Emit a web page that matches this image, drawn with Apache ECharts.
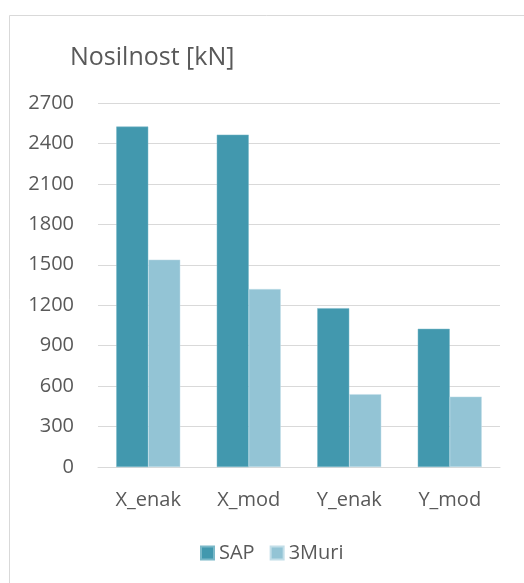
<!DOCTYPE html>
<html>
<head>
<meta charset="utf-8">
<script src="https://cdn.jsdelivr.net/npm/echarts@6/dist/echarts.min.js"></script>
<style>
  html, body { margin: 0; padding: 0; background: #ffffff; }
  #chart { width: 524px; height: 583px; }
</style>
</head>
<body>
<div id="chart"></div>
<script>
// Load capacity per analysis case
const categories = ['X_enak', 'X_mod', 'Y_enak', 'Y_mod'];
const sapValues = [2525, 2465, 1178, 1025];
const muriValues = [1538, 1320, 540, 522];
const seriesNames = ['SAP', '3Muri'];

const FONT = '"Open Sans", sans-serif';
const TEXT = '#595959';

const chart = echarts.init(document.getElementById('chart'), null, { renderer: 'canvas' });

chart.setOption({
  backgroundColor: '#ffffff',
  animation: false,
  title: {
    text: 'Nosilnost [kN]',
    left: 65,
    top: 40,
    textStyle: { fontFamily: FONT, fontSize: 25, fontWeight: 'normal', color: TEXT }
  },
  graphic: [
    { type: 'line', shape: { x1: 9.5, y1: 15.5, x2: 524, y2: 15.5 }, style: { stroke: '#d9d9d9', lineWidth: 1 } },
    { type: 'line', shape: { x1: 9.5, y1: 15.5, x2: 9.5, y2: 583 }, style: { stroke: '#d9d9d9', lineWidth: 1 } }
  ],
  legend: {
    data: seriesNames,
    left: 195,
    top: 538,
    itemWidth: 13,
    itemHeight: 13,
    itemGap: 15,
    icon: 'rect',
    textStyle: { fontFamily: FONT, fontSize: 20, color: TEXT }
  },
  grid: { left: 98, right: 24, top: 103, bottom: 116, containLabel: false },
  xAxis: {
    type: 'category',
    data: categories,
    axisLine: { show: true, lineStyle: { color: '#d9d9d9', width: 1 } },
    axisTick: { show: false },
    axisLabel: { fontFamily: FONT, fontSize: 20, color: TEXT, margin: 23 }
  },
  yAxis: {
    type: 'value',
    min: 0,
    max: 2700,
    interval: 300,
    axisLine: { show: false },
    axisTick: { show: false },
    splitLine: { lineStyle: { color: '#d9d9d9', width: 1 } },
    axisLabel: { fontFamily: FONT, fontSize: 20, color: TEXT, margin: 24, formatter: v => String(v) }
  },
  series: [
    {
      name: seriesNames[0],
      type: 'bar',
      data: sapValues,
      barWidth: 32,
      barGap: '0%',
      itemStyle: { color: '#4298ae', borderColor: '#7ab8c8', borderWidth: 0.5 }
    },
    {
      name: seriesNames[1],
      type: 'bar',
      data: muriValues,
      barWidth: 32,
      barGap: '0%',
      itemStyle: { color: '#93c4d5', borderColor: '#c2dee8', borderWidth: 0.5 }
    }
  ]
});
</script>
</body>
</html>
